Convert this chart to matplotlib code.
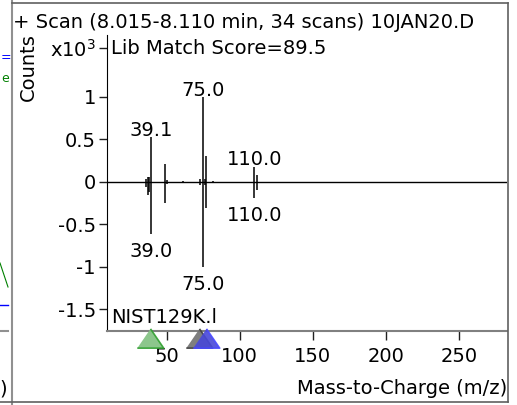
import numpy as np
import matplotlib
matplotlib.use("Agg")
import matplotlib.pyplot as plt
from matplotlib.lines import Line2D
from matplotlib.transforms import blended_transform_factory

# spectrum data (abundance in x10^3 counts)
mz = [36, 37, 38, 39, 49, 50, 61, 73, 75, 76, 77, 82, 110, 112]
sample_counts = [0.04, 0.06, 0.06, 0.53, 0.21, 0.02, 0.01, 0.04, 1.0, 0.03, 0.30, 0.01, 0.18, 0.08]
library_counts = [-0.06, -0.15, -0.12, -0.61, -0.25, -0.02, -0.01, -0.04, -1.0, -0.03, -0.31, -0.01, -0.19, -0.10]

sample_label_mz = [39.1, 75.0, 110.0]
sample_label_val = [0.53, 1.0, 0.18]
library_label_mz = [39.0, 75.0, 110.0]
library_label_val = [-0.61, -1.0, -0.19]

marker_mz = [38.5, 72, 77]
marker_face = ["#80c080", "#707070", "#4848d8"]
marker_edge = ["#30a030", "#404040", "#4a4aff"]

yticks = [-1.5, -1, -0.5, 0, 0.5, 1]
ytick_labels = ["-1.5", "-1", "-0.5", "0", "0.5", "1"]
xticks = [50, 100, 150, 200, 250]

plt.rcParams["font.family"] = ["DejaVu Sans"]
plt.rcParams["font.size"] = 14

W, H = 517, 405
fig = plt.figure(figsize=(W / 100, H / 100), dpi=100)
ax = fig.add_axes([107 / W, 1 - 331 / H, 400 / W, 296 / H])

def px(x, y):
    return x / W, 1 - y / H

ax.vlines(mz, library_counts, sample_counts, color="black", lw=1.1)
ax.axhline(0, color="black", lw=1)

for m, v in zip(sample_label_mz, sample_label_val):
    ax.annotate("%.1f" % m, xy=(m, v), xytext=(0, 1), textcoords="offset points",
                ha="center", va="baseline")
for m, v in zip(library_label_mz, library_label_val):
    ax.annotate("%.1f" % m, xy=(m, v), xytext=(0, -6), textcoords="offset points",
                ha="center", va="top")

ax.set_xlim(9.15, 282.8)
ax.set_ylim(-1.753, 1.729)
ax.set_yticks(yticks + [1.576])
ax.set_yticklabels(ytick_labels + ["x10$^{3}$"])
ax.set_xticks(xticks)

for s in ["top", "right"]:
    ax.spines[s].set_visible(False)
ax.spines["left"].set_color("black")
ax.spines["bottom"].set_color("#808080")
ax.spines["bottom"].set_linewidth(1.5)
ax.tick_params(axis="y", length=6, width=1, pad=2, color="#202020")
ax.tick_params(axis="x", length=6.5, width=1, pad=5, color="#202020")

# ion markers under the axis
tri = [(-13, -9.5), (13, -9.5), (0, 9.5)]
trans = blended_transform_factory(ax.transData, ax.transAxes)
for m, fc, ec in zip(marker_mz, marker_face, marker_edge):
    ax.scatter([m], [-0.022], marker=tri, s=19 ** 2, facecolor=fc, edgecolor=ec,
               lw=1.2, alpha=0.9, transform=trans, clip_on=False, zorder=5)

ax.text(0.01, 0.012, "NIST129K.l", transform=ax.transAxes, ha="left", va="bottom")

fig.text(*px(13, 22), "+ Scan (8.015-8.110 min, 34 scans) 10JAN20.D", ha="left", va="center")
fig.text(*px(111, 48), "Lib Match Score=89.5", ha="left", va="center")
fig.text(*px(28, 67), "Counts", rotation=90, ha="center", va="center")
fig.text(*px(507, 389), "Mass-to-Charge (m/z)", ha="right", va="center")

# window frame
frame = "#909090"
fig.add_artist(Line2D([12 / W, 12 / W], [0, 1], color=frame, lw=1.5))
fig.add_artist(Line2D([12 / W, 508 / W], [1 - 3 / H, 1 - 3 / H], color="#606060", lw=1.2))
fig.add_artist(Line2D([508 / W, 508 / W], [1 - 3 / H, 1 - 402 / H], color="#606060", lw=1.2))
fig.add_artist(Line2D([0, 508 / W], [1 - 402 / H, 1 - 402 / H], color="#606060", lw=1.2))

# clipped neighbouring pane
fig.text(*px(1, 58), "=", color="blue", ha="left", va="center", fontsize=9)
fig.text(*px(1, 78), "e", color="green", ha="left", va="center", fontsize=9)
fig.add_artist(Line2D([0, 3 / W, 5 / W, 8 / W], [1 - 263 / H, 1 - 272 / H, 1 - 278 / H, 1 - 287 / H],
                      color="green", lw=0.8))
fig.add_artist(Line2D([0, 8 / W], [1 - 305 / H, 1 - 305 / H], color="blue", lw=1))
fig.add_artist(Line2D([0, 8 / W], [1 - 331 / H, 1 - 331 / H], color=frame, lw=1.5))
fig.text(*px(3, 389), ")", ha="center", va="center")

fig.savefig("out.png", dpi=100)
